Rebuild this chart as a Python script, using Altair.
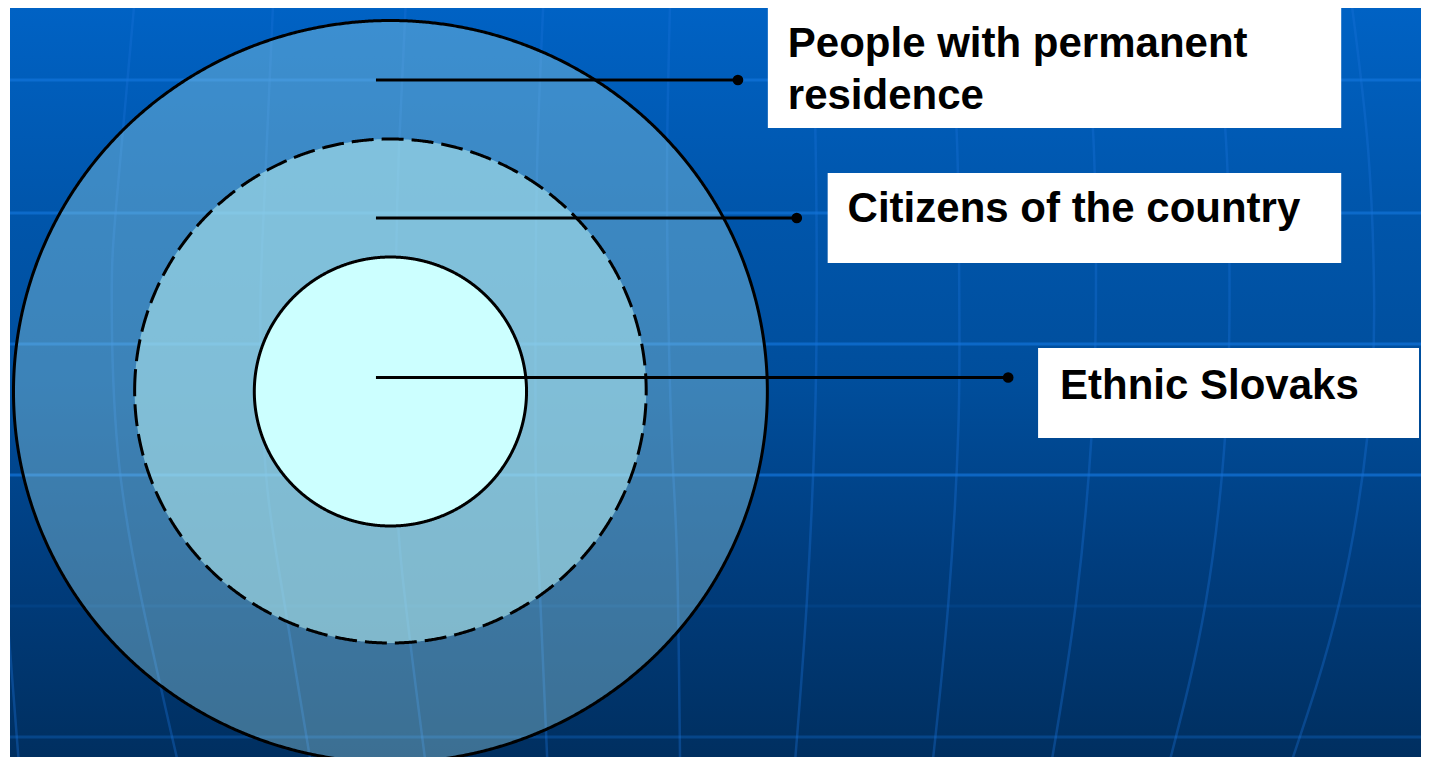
import altair as alt
import numpy as np
import pandas as pd

# ---------------- data ----------------
categories = ["People with permanent residence", "Citizens of the country", "Ethnic Slovaks"]
label_lines = [["People with permanent", "residence"], ["Citizens of the country"], ["Ethnic Slovaks"]]

# ---------------- layout (reference pixel coordinates) ----------------
W, H = 1413, 749
XD = [8, 1421]
YD = [8, 757]

circle_cx = [389.5, 389.5, 389.5]
circle_cy = [391.5, 391.0, 391.5]
circle_rx = [378.0, 256.5, 136.5]
circle_ry = [371.0, 252.0, 134.5]
circle_fill = ["#A2DEE9", "#B3EBEF", "#CCFFFF"]
circle_fill_opacity = [0.37, 0.57, 1.0]
circle_dashed = [False, True, False]

leader_x0 = [375, 375, 375]
leader_x1 = [738, 797, 1009]
leader_y = [80, 218, 377.5]

box_x0 = [768, 828, 1039]
box_x1 = [1343, 1343, 1440]
box_y0 = [5, 173, 348]
box_y1 = [128, 263, 438]

text_x = [788, 848, 1061]
text_baselines = [[57, 109], [222], [399]]

grid_y = [80, 213, 344, 475, 606, 737]
grid_opacity = [0.6, 0.6, 0.62, 0.65, 0.12, 0.3]

meridians = [
    [(-12, 250), (-8, 400), (0, 550), (8, 650), (17, 765)],
    [(133, 0), (115, 200), (110, 300), (116, 450), (140, 600), (177, 765)],
    [(272, 0), (263, 200), (259, 320), (263, 450), (276, 560), (310, 765)],
    [(405, 0), (398, 150), (395, 300), (396, 450), (400, 560), (425, 765)],
    [(543, 0), (537, 150), (535, 300), (535, 450), (538, 560), (547, 765)],
    [(670, 0), (667, 150), (668, 300), (672, 450), (677, 560), (680, 765)],
    [(812, 0), (816, 150), (817, 300), (815, 430), (807, 603), (795, 765)],
    [(950, 0), (958, 150), (960, 300), (959, 430), (949, 603), (933, 765)],
    [(1085, 0), (1095, 150), (1097, 300), (1093, 430), (1077, 603), (1052, 765)],
    [(1215, 0), (1228, 150), (1231, 300), (1227, 430), (1207, 603), (1170, 765)],
    [(1353, 0), (1370, 150), (1376, 300), (1370, 430), (1341, 603), (1292, 765)],
]

xs = alt.Scale(domain=XD, nice=False, zero=False)
ys = alt.Scale(domain=YD, nice=False, zero=False, reverse=True)

# background
bg_grad = alt.Gradient(
    gradient="linear", x1=0, x2=0, y1=0, y2=1,
    stops=[
        alt.GradientStop(color="#0062C4", offset=0),
        alt.GradientStop(color="#0056AC", offset=0.256),
        alt.GradientStop(color="#004E9C", offset=0.496),
        alt.GradientStop(color="#003E80", offset=0.724),
        alt.GradientStop(color="#002F60", offset=1),
    ],
)
bg = alt.Chart(pd.DataFrame({"a": [0]})).mark_rect(fill=bg_grad).encode(
    x=alt.value(0), x2=alt.value(W), y=alt.value(0), y2=alt.value(H)
)

grid_df = pd.DataFrame({"y": grid_y, "op": grid_opacity})
hgrid = alt.Chart(grid_df).mark_rule(color="#1478E0", strokeWidth=3).encode(
    y=alt.Y("y:Q", scale=ys, axis=None),
    x=alt.value(0), x2=alt.value(W),
    opacity=alt.Opacity("op:Q", scale=None, legend=None),
)

mrows = []
for i, pts in enumerate(meridians):
    for j, (mx, my) in enumerate(pts):
        mrows.append({"id": i, "o": j, "x": mx, "y": my})
mer = alt.Chart(pd.DataFrame(mrows)).mark_line(
    color="#1A73D9", strokeWidth=2.5, opacity=0.35, interpolate="natural", clip=True
).encode(
    x=alt.X("x:Q", scale=xs, axis=None),
    y=alt.Y("y:Q", scale=ys, axis=None),
    detail="id:N",
    order="o:Q",
)

circles = []
t = np.linspace(np.pi, 0, 721)
for i, cat in enumerate(categories):
    cdf = pd.DataFrame({
        "cat": cat,
        "x": circle_cx[i] + circle_rx[i] * np.cos(t),
        "ytop": circle_cy[i] - circle_ry[i] * np.sin(t),
        "ybot": circle_cy[i] + circle_ry[i] * np.sin(t),
    })
    kw = dict(fill=circle_fill[i], fillOpacity=circle_fill_opacity[i],
              stroke="black", strokeWidth=3, clip=True)
    if circle_dashed[i]:
        kw["strokeDash"] = [22, 8]
    circles.append(
        alt.Chart(cdf).mark_area(**kw).encode(
            x=alt.X("x:Q", scale=xs, axis=None),
            y=alt.Y("ytop:Q", scale=ys, axis=None),
            y2="ybot:Q",
        )
    )

lead_df = pd.DataFrame({"cat": categories, "x0": leader_x0, "x1": leader_x1, "y": leader_y})
leaders = alt.Chart(lead_df).mark_rule(color="black", strokeWidth=3).encode(
    x=alt.X("x0:Q", scale=xs, axis=None), x2="x1:Q",
    y=alt.Y("y:Q", scale=ys, axis=None),
)
dots = alt.Chart(lead_df).mark_point(shape="circle", filled=True, color="black", size=115, opacity=1).encode(
    x=alt.X("x1:Q", scale=xs, axis=None),
    y=alt.Y("y:Q", scale=ys, axis=None),
)

box_df = pd.DataFrame({"cat": categories, "x0": box_x0, "x1": box_x1, "y0": box_y0, "y1": box_y1})
boxes = alt.Chart(box_df).mark_rect(color="white", clip=True).encode(
    x=alt.X("x0:Q", scale=xs, axis=None), x2="x1:Q",
    y=alt.Y("y0:Q", scale=ys, axis=None), y2="y1:Q",
)

trows = []
for i, lines in enumerate(label_lines):
    for ln, by in zip(lines, text_baselines[i]):
        trows.append({"txt": ln, "x": text_x[i], "y": by})
texts = alt.Chart(pd.DataFrame(trows)).mark_text(
    align="left", baseline="alphabetic", font="Liberation Sans", fontWeight="bold",
    fontSize=42, color="black",
).encode(
    x=alt.X("x:Q", scale=xs, axis=None),
    y=alt.Y("y:Q", scale=ys, axis=None),
    text="txt:N",
)

chart = alt.layer(bg, hgrid, mer, *circles, leaders, dots, boxes, texts).properties(
    width=W, height=H,
    autosize=alt.AutoSizeParams(type="fit", contains="padding"),
    padding=0,
).configure_view(stroke=None)

chart.save("out.html", embed_options={"renderer": "svg", "actions": False})
